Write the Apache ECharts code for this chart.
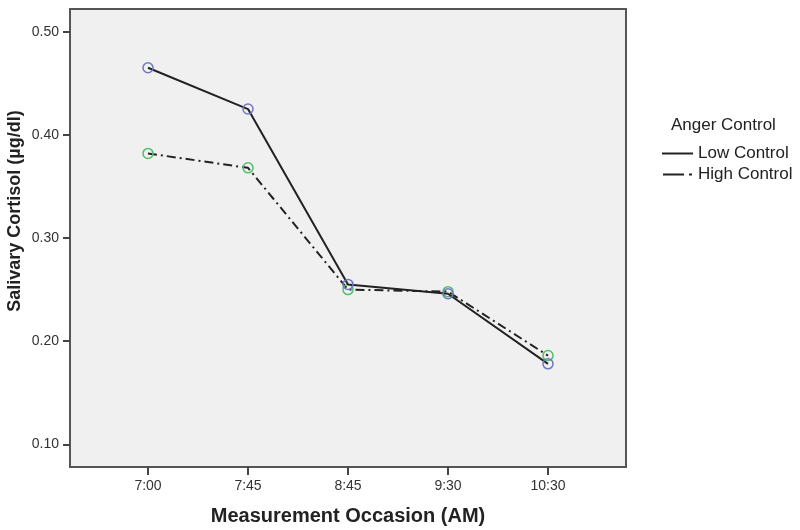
<!DOCTYPE html>
<html>
<head>
<meta charset="utf-8">
<script src="https://cdn.jsdelivr.net/npm/echarts@6/dist/echarts.min.js"></script>
<style>
  html, body { margin: 0; padding: 0; background: #fff; }
  #chart { width: 800px; height: 530px; }
</style>
</head>
<body>
<div id="chart"></div>
<script>
// 测量时间点
const occasions = ['7:00', '7:45', '8:45', '9:30', '10:30'];
// 各组皮质醇均值
const lowControl = [0.465, 0.425, 0.255, 0.246, 0.178];
const highControl = [0.382, 0.368, 0.250, 0.248, 0.186];
const yTicks = [0.1, 0.2, 0.3, 0.4, 0.5];
const xTicks = [0, 1, 2, 3, 4];

const font = 'Liberation Sans, Arial, sans-serif';
const chart = echarts.init(document.getElementById('chart'));

const toPoints = (arr) => arr.map((v, i) => [i, v]);

const option = {
  animation: false,
  backgroundColor: '#fff',
  grid: {
    left: 70, top: 9, right: 174, bottom: 63,
    outerBoundsMode: 'none',
    show: true,
    backgroundColor: '#f0f0f0',
    borderColor: '#555',
    borderWidth: 2
  },
  graphic: [
    {
      type: 'text',
      left: 671, top: 117,
      style: { text: 'Anger Control', font: '17px ' + font, fill: '#222' }
    },
    {
      // y 轴标题
      type: 'text',
      x: 15, y: 211,
      rotation: Math.PI / 2,
      style: {
        text: 'Salivary Cortisol (µg/dl)',
        font: 'bold 18px ' + font,
        fill: '#222',
        align: 'center',
        verticalAlign: 'middle'
      }
    }
  ],
  legend: {
    orient: 'vertical',
    left: 657, top: 140,
    itemWidth: 31, itemHeight: 2,
    itemGap: 4,
    itemStyle: { color: '#222', borderWidth: 0 },
    textStyle: { fontFamily: font, fontSize: 17, color: '#222' },
    data: [
      { name: 'Low Control', icon: 'path://M0,0L31,0L31,2L0,2Z' },
      { name: 'High Control', icon: 'path://M0,0L21,0L21,2L0,2ZM26,0L29,0L29,2L26,2Z' }
    ]
  },
  xAxis: {
    type: 'value',
    min: -0.78, max: 4.78,
    name: 'Measurement Occasion (AM)',
    nameLocation: 'middle',
    nameGap: 39,
    nameTextStyle: { fontFamily: font, fontSize: 20, fontWeight: 'bold', color: '#222' },
    axisLine: { show: false, onZero: false },
    splitLine: { show: false },
    axisTick: { show: true, customValues: xTicks, length: 8, lineStyle: { color: '#444', width: 2 } },
    axisLabel: {
      customValues: xTicks,
      formatter: (v) => occasions[Math.round(v)],
      fontFamily: font, fontSize: 14, color: '#333', margin: 12
    }
  },
  yAxis: {
    type: 'value',
    min: 0.078, max: 0.522,
    axisLine: { show: false, onZero: false },
    splitLine: { show: false },
    axisTick: { show: true, customValues: yTicks, length: 7, lineStyle: { color: '#444', width: 2 } },
    axisLabel: {
      customValues: yTicks,
      formatter: (v) => v.toFixed(2),
      fontFamily: font, fontSize: 14, color: '#333', margin: 11
    }
  },
  series: [
    {
      name: 'Low Control',
      type: 'line',
      data: toPoints(lowControl),
      symbol: 'circle',
      symbolSize: 10,
      z: 3,
      lineStyle: { color: '#222', width: 2 },
      itemStyle: { color: 'rgba(0,0,0,0)', borderColor: '#6f78c0', borderWidth: 1.5 }
    },
    {
      name: 'High Control',
      type: 'line',
      data: toPoints(highControl),
      symbol: 'circle',
      symbolSize: 10,
      z: 2,
      lineStyle: { color: '#222', width: 2, type: [9, 4, 2, 4] },
      itemStyle: { color: 'rgba(0,0,0,0)', borderColor: '#52c06a', borderWidth: 1.5 }
    }
  ]
};

chart.setOption(option);
</script>
</body>
</html>
